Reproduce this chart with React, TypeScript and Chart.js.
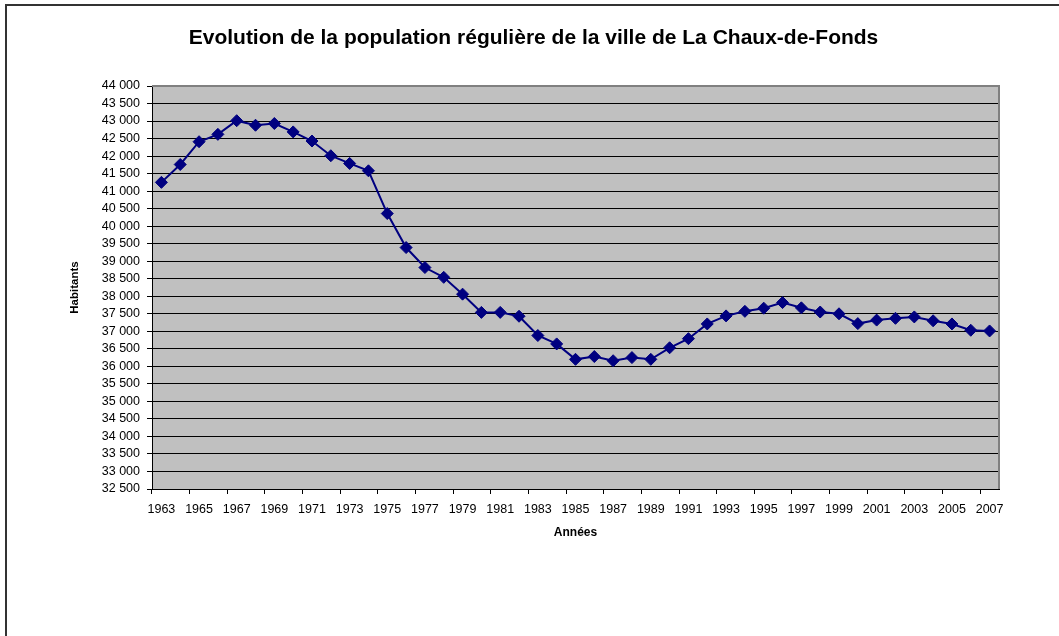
import React, { useEffect, useRef } from "react";
import { Chart, registerables } from "chart.js";

Chart.register(...registerables);

const years: string[] = [
  "1963", "1964", "1965", "1966", "1967", "1968", "1969", "1970", "1971", "1972",
  "1973", "1974", "1975", "1976", "1977", "1978", "1979", "1980", "1981", "1982",
  "1983", "1984", "1985", "1986", "1987", "1988", "1989", "1990", "1991", "1992",
  "1993", "1994", "1995", "1996", "1997", "1998", "1999", "2000", "2001", "2002",
  "2003", "2004", "2005", "2006", "2007",
];

const population: number[] = [
  41250, 41760, 42410, 42620, 43010, 42880, 42930, 42690, 42430, 42010,
  41790, 41580, 40360, 39390, 38820, 38540, 38060, 37540, 37540, 37430,
  36880, 36640, 36200, 36280, 36160, 36250, 36200, 36530, 36790, 37210,
  37440, 37570, 37660, 37820, 37670, 37550, 37500, 37220, 37320, 37370,
  37410, 37300, 37210, 37030, 37010,
];

const titleText = "Evolution de la population régulière de la ville de La Chaux-de-Fonds";
const xTitle = "Années";
const yTitle = "Habitants";
const yMin = 32500;
const yMax = 44000;
const yStep = 500;

const FONT = "'Liberation Sans', Arial, sans-serif";

const fmt = (v: number) => {
  const s = Math.round(v).toString();
  return s.replace(/\B(?=(\d{3})+(?!\d))/g, " ");
};

const decorPlugin = {
  id: "decor",
  beforeDraw(chart: any) {
    const { ctx, chartArea } = chart;
    ctx.save();
    ctx.fillStyle = "#ffffff";
    ctx.fillRect(0, 0, chart.width, chart.height);
    // outer frame
    ctx.strokeStyle = "#333333";
    ctx.lineWidth = 2;
    ctx.strokeRect(6, 5, chart.width + 20, chart.height + 20);
    // plot background
    ctx.fillStyle = "#c0c0c0";
    ctx.fillRect(chartArea.left, chartArea.top, chartArea.right - chartArea.left, chartArea.bottom - chartArea.top);
    ctx.restore();
  },
  beforeDatasetsDraw(chart: any) {
    const { ctx, chartArea } = chart;
    ctx.save();
    ctx.strokeStyle = "#808080";
    ctx.lineWidth = 2;
    ctx.beginPath();
    ctx.moveTo(chartArea.left, chartArea.top);
    ctx.lineTo(chartArea.right, chartArea.top);
    ctx.lineTo(chartArea.right, chartArea.bottom);
    ctx.stroke();
    ctx.restore();
  },
};

export default function App() {
  const ref = useRef<HTMLCanvasElement | null>(null);

  useEffect(() => {
    if (!ref.current) return;
    const chart = new Chart(ref.current, {
      type: "line",
      data: {
        labels: years,
        datasets: [
          {
            data: population,
            borderColor: "#000080",
            backgroundColor: "#000080",
            borderWidth: 2,
            pointStyle: "rectRot",
            pointRadius: 6,
            pointBackgroundColor: "#000080",
            pointBorderColor: "#000080",
            pointBorderWidth: 1,
            tension: 0,
            fill: false,
            clip: 10,
          },
        ],
      },
      options: {
        responsive: false,
        animation: false,
        layout: { padding: { left: 68, right: 60, top: 0, bottom: 0 } },
        plugins: {
          legend: { display: false },
          tooltip: { enabled: false },
          title: {
            display: true,
            text: titleText,
            color: "#000",
            font: { family: FONT, size: 21, weight: "bold" },
            padding: { top: 25.4, bottom: 35.4 },
          },
        },
        scales: {
          x: {
            type: "category",
            offset: true,
            afterFit: (scale: any) => {
              scale.height = 147;
            },
            grid: {
              offset: true,
              drawOnChartArea: false,
              drawTicks: true,
              tickLength: 5,
              tickColor: (ctx: any) => (ctx.index % 2 === 0 ? "#000" : "rgba(0,0,0,0)"),
            },
            border: { display: true, color: "#000", width: 1 },
            ticks: {
              autoSkip: false,
              maxRotation: 0,
              minRotation: 0,
              padding: 8,
              color: "#000",
              font: { family: FONT, size: 12.5 },
              callback: (_v: any, index: number) => (index % 2 === 0 ? years[index] : ""),
            },
            title: {
              display: true,
              text: xTitle,
              color: "#000",
              font: { family: FONT, size: 12, weight: "bold" },
              padding: { top: 0, bottom: 96 },
            },
          },
          y: {
            min: yMin,
            max: yMax,
            afterFit: (scale: any) => {
              scale.width = 84;
            },
            grid: {
              color: "#000",
              lineWidth: 1,
              drawTicks: true,
              tickLength: 5,
              tickColor: "#000",
            },
            border: { display: true, color: "#000", width: 1 },
            ticks: {
              stepSize: yStep,
              autoSkip: false,
              padding: 7,
              color: "#000",
              font: { family: FONT, size: 12.5 },
              callback: (v: any) => fmt(Number(v)),
            },
            title: {
              display: true,
              text: yTitle,
              color: "#000",
              font: { family: FONT, size: 11.5, weight: "bold" },
              padding: { top: 0, bottom: 0 },
            },
          },
        },
      },
      plugins: [decorPlugin],
    } as any);
    return () => chart.destroy();
  }, []);

  return (
    <div style={{ position: "fixed", left: 0, top: 0, width: 1059, height: 636, background: "#fff" }}>
      <canvas ref={ref} width={1059} height={636} style={{ display: "block" }} />
    </div>
  );
}
